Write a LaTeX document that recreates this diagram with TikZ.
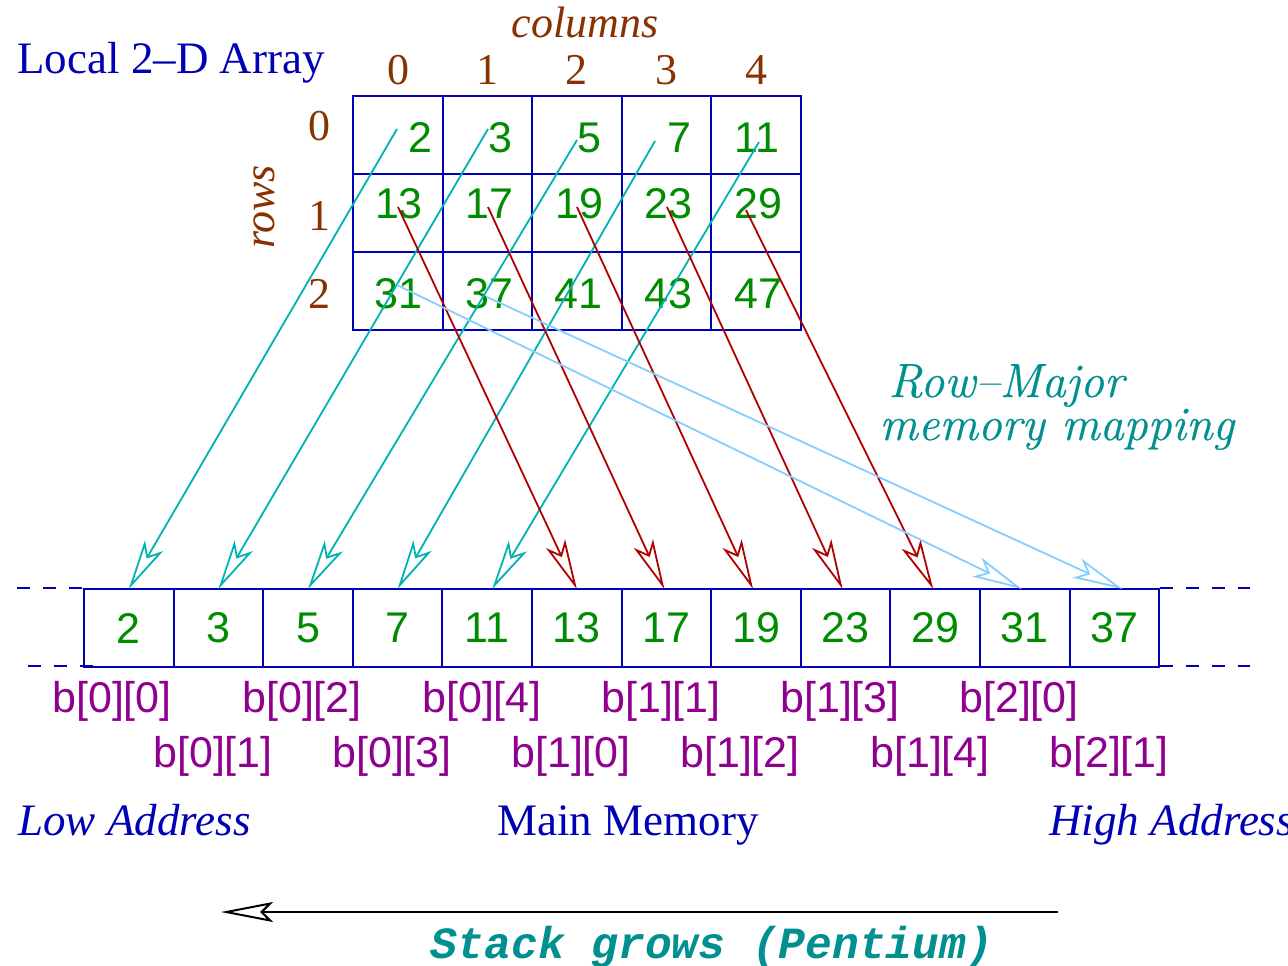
\documentclass[tikz,border=0pt]{standalone}
\usepackage{fontspec}
\setmainfont{Liberation Serif}
\newfontfamily\helv{Liberation Sans}
\newfontfamily\cour{Liberation Mono}
\newfontfamily\lmodern[Ligatures=TeX, FakeBold=0.5]{Latin Modern Roman}
\usetikzlibrary{arrows.meta}

\definecolor{boxblue}{RGB}{0,0,180}
\definecolor{numgreen}{RGB}{0,140,0}
\definecolor{idxbrown}{RGB}{135,50,0}
\definecolor{addrpurple}{RGB}{144,0,144}
\definecolor{arrcyan}{RGB}{0,178,178}
\definecolor{arrred}{RGB}{176,0,0}
\definecolor{arrltblue}{RGB}{135,206,255}
\definecolor{tealtext}{RGB}{0,144,144}

\tikzset{
  gridcell/.style={draw=boxblue, line width=1pt, minimum width=44.8pt,
    minimum height=39pt, inner sep=0pt, outer sep=0pt},
  memcell/.style={gridcell, text=numgreen, font=\helv\fontsize{21.5pt}{24pt}\selectfont},
  elem/.style={anchor=base, inner sep=0pt, text=numgreen,
    font=\helv\fontsize{21.5pt}{24pt}\selectfont},
  idx/.style={anchor=base, inner sep=0pt, text=idxbrown,
    font=\fontsize{22pt}{26pt}\selectfont},
  addr/.style={anchor=base, inner sep=0pt, text=addrpurple,
    font=\helv\fontsize{21.5pt}{24pt}\selectfont},
  caption/.style={anchor=base west, inner sep=0pt, text=boxblue,
    font=\fontsize{22.5pt}{26pt}\selectfont},
  mapnote/.style={anchor=base west, inner sep=0pt, text=tealtext, align=left,
    font=\lmodern\itshape\fontsize{24pt}{21.5pt}\selectfont},
  hollow/.style={-{Stealth[length=25pt, width=10.5pt, inset=6pt, fill=white]},
    line width=0.9pt},
  rowzero/.style={hollow, draw=arrcyan},
  rowone/.style={hollow, draw=arrred},
  rowtwo/.style={hollow, draw=arrltblue},
  memedge/.style={draw=boxblue, line width=1pt, dash pattern=on 6.5pt off 6.5pt},
}

\begin{document}
\begin{tikzpicture}[x=0.5pt, y=-0.5pt]
\clip (0,0) rectangle (1288,965);
\fill[white] (0,0) rectangle (1288,965);

% ---- the 3x5 array ----
\foreach \r in {0,1,2}
  \foreach \c in {0,...,4}
    \node[gridcell] (g\r\c) at ({353+89.6*(\c+0.5)},{135+78*\r}) {};

\node[caption] (title) at (17,73) {Local 2--D Array};
\node[idx, font=\itshape\fontsize{22pt}{26pt}\selectfont] (colhead) at (585,37) {columns};
\foreach \c/\x in {0/398,1/487,2/576,3/666,4/756}
  \node[idx] (col\c) at (\x,84) {\c};
\foreach \r/\y in {0/140,1/230,2/308}
  \node[idx] (row\r) at (319,\y) {\r};
\node[text=idxbrown, inner sep=0pt, rotate=90,
      font=\itshape\fontsize{22pt}{26pt}\selectfont] (rowhead) at (264,207) {rows};

% array elements
\foreach \v/\x [count=\k from 0] in {2/420,3/500,5/589,7/679,11/757}
  \node[elem] (e0\k) at (\x,152) {\v};
\foreach \v/\x [count=\k from 0] in {13/399,17/489,19/579,23/668,29/758}
  \node[elem] (e1\k) at (\x,218) {\v};
\foreach \v/\x [count=\k from 0] in {31/398,37/489,41/578,43/668,47/758}
  \node[elem] (e2\k) at (\x,308) {\v};

% ---- main memory ----
\foreach \v [count=\i] in {2,3,5,7,11,13,17,19,23,29,31,37}
  \node[memcell] (m\i) at ({84+89.6*(\i-0.5)},628) {\v};

\draw[memedge] (17,588) -- (84,588);
\draw[memedge] (28,666) -- (95,666);
\draw[memedge] (1160,588) -- (1250,588);
\draw[memedge] (1160,666) -- (1250,666);

% element addresses
\foreach \t/\x in {b[0][0]/112,b[0][2]/302,b[0][4]/482,b[1][1]/661,b[1][3]/840,b[2][0]/1019}
  \node[addr] (a\x) at (\x,712) {\t};
\foreach \t/\x in {b[0][1]/213,b[0][3]/392,b[1][0]/571,b[1][2]/740,b[1][4]/930,b[2][1]/1109}
  \node[addr] (a\x) at (\x,767) {\t};

\node[caption, font=\itshape\fontsize{22.5pt}{26pt}\selectfont] (low) at (18,835) {Low Address};
\node[caption, anchor=base] (mainmem) at (628,835) {Main Memory};
\node[caption, font=\itshape\fontsize{22.5pt}{26pt}\selectfont] (high) at (1049,835) {High Address};

% two-line note; its base anchor sits on the second line
\node[mapnote] (rowmajor) at (879,440) {\hspace*{4.5pt}Row--Major\\memory mapping};

% ---- start points of the mapping arrows ----
\coordinate (s00) at (397,129);
\coordinate (s01) at (488,129);
\coordinate (s02) at (577,140);
\coordinate (s03) at (655,141);
\coordinate (s04) at (759,142);
\coordinate (s10) at (398,207);
\coordinate (s11) at (488,207);
\coordinate (s12) at (577,207);
\coordinate (s13) at (667,207);
\coordinate (s14) at (746,210);
\coordinate (s20) at (397,285);
\coordinate (s21) at (487,297);

\draw[rowzero] (s00) -- (m1.north);
\draw[rowzero] (s01) -- (m2.north);
\draw[rowzero] (s02) -- (m3.north);
\draw[rowzero] (s03) -- (m4.north);
\draw[rowzero] (s04) -- ([xshift=2.5pt]m5.north);
\draw[rowone] (s10) -- (m6.north);
\draw[rowone] (s11) -- ([xshift=-1pt]m7.north);
\draw[rowone] (s12) -- ([xshift=-1.5pt]m8.north);
\draw[rowone] (s13) -- ([xshift=-1.5pt]m9.north);
\draw[rowone] (s14) -- ([xshift=-1pt]m10.north);
\draw[rowtwo] (s20) -- ([xshift=-1.5pt]m11.north);
\draw[rowtwo] (s21) -- ([xshift=4pt]m12.north);

% ---- stack direction ----
\coordinate (stackfrom) at (1058,912);
\coordinate (stackto) at (221,912);
\draw[-{Stealth[length=26pt, width=10pt, inset=5pt, fill=white]}, line width=1pt]
  (stackfrom) -- (stackto);
\node[anchor=base, inner sep=0pt, text=tealtext,
      font=\cour\bfseries\itshape\fontsize{22.3pt}{26pt}\selectfont] (stack) at (712,958)
  {Stack grows (Pentium)};
\end{tikzpicture}
\end{document}
